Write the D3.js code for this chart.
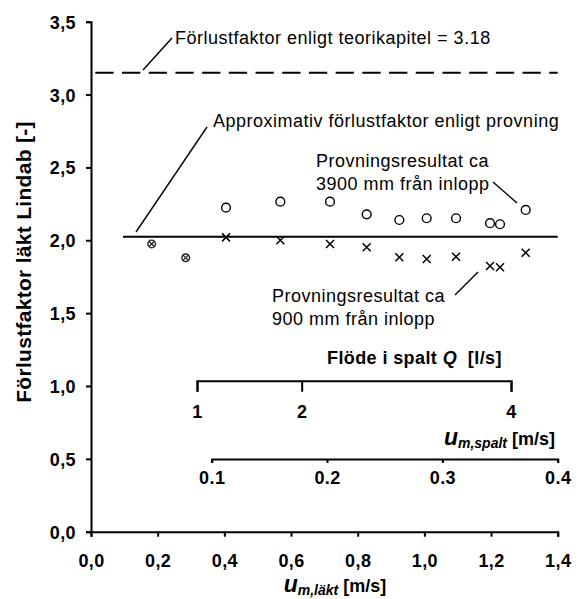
<!DOCTYPE html>
<html>
<head>
<meta charset="utf-8">
<script src="https://cdn.jsdelivr.net/npm/d3@7"></script>
<style>
  html, body { margin: 0; padding: 0; background: #fff; }
  svg { display: block; font-family: "Liberation Sans", Arial, sans-serif; }
</style>
</head>
<body>
<svg id="chart" width="578" height="599"></svg>
<script>
// ---- data ----
const uLakt3900 = [0.405, 0.568, 0.717, 0.827, 0.925, 1.007, 1.095, 1.197, 1.227, 1.304];
const f3900     = [2.224, 2.265, 2.265, 2.178, 2.139, 2.151, 2.151, 2.117, 2.110, 2.208];
const uLakt900  = [0.405, 0.568, 0.717, 0.827, 0.925, 1.007, 1.095, 1.197, 1.227, 1.304];
const f900      = [2.020, 2.000, 1.975, 1.952, 1.883, 1.872, 1.887, 1.824, 1.815, 1.915];
const uLaktBoth = [0.182, 0.284];
const fBoth     = [1.975, 1.880];
const theoryLine = { x: [0.013, 1.4], y: 3.15 };
const approxLine = { x: [0.096, 1.4], y: 2.025 };
const xTicks = [0, 0.2, 0.4, 0.6, 0.8, 1.0, 1.2, 1.4];
const yTicks = [0, 0.5, 1.0, 1.5, 2.0, 2.5, 3.0, 3.5];
const qTicks = [1, 2, 4];
const qAtULakt = [0.318, 1.26];       // Q = 1 and Q = 4 l/s on the u_läkt axis
const spaltTicks = [0.1, 0.2, 0.3, 0.4];
const spaltAtULakt = [0.362, 1.4];    // u_spalt = 0.1 and 0.4 m/s on the u_läkt axis

// ---- layout ----
const svg = d3.select("#chart");
const x = d3.scaleLinear().domain([0, 1.4]).range([91, 557.7]);
const y = d3.scaleLinear().domain([0, 3.5]).range([531.7, 21.7]);
const comma = d => d3.format(".1f")(d).replace(".", ",");

// main x axis
const gx = svg.append("g").attr("transform", "translate(0,531.7)")
  .call(d3.axisBottom(x).tickValues(xTicks).tickFormat(comma).tickSize(5).tickSizeOuter(5));
// main y axis
const gy = svg.append("g").attr("transform", "translate(91,0)")
  .call(d3.axisLeft(y).tickValues(yTicks).tickFormat(comma).tickSize(5).tickSizeOuter(5));

[gx, gy].forEach(g => {
  g.select(".domain").attr("stroke", "#000").attr("stroke-width", 2);
  g.selectAll(".tick line").attr("stroke", "#000").attr("stroke-width", 2);
  g.selectAll("text").attr("font-family", "Liberation Sans, Arial, sans-serif")
    .attr("font-size", 18).attr("font-weight", "bold").attr("fill", "#000")
    .style("letter-spacing", "0.4px");
});
gx.selectAll("text").attr("y", 35).attr("dy", 0);
gy.selectAll("text").attr("x", -15).attr("dy", "0.36em");

// Q axis
const xQ = d3.scaleLinear().domain([1, 4]).range(qAtULakt.map(x));
const gq = svg.append("g").attr("transform", "translate(0,380.7)")
  .call(d3.axisBottom(xQ).tickValues(qTicks).tickFormat(d3.format("d")).tickSize(11).tickSizeOuter(11));
// u_spalt axis
const xS = d3.scaleLinear().domain([0.1, 0.4]).range(spaltAtULakt.map(x));
const gs = svg.append("g").attr("transform", "translate(0,459)")
  .call(d3.axisBottom(xS).tickValues(spaltTicks).tickFormat(d3.format(".1f")).tickSize(4).tickSizeOuter(4));
[gq, gs].forEach(g => {
  g.select(".domain").attr("stroke", "#000").attr("stroke-width", 2);
  g.selectAll(".tick line").attr("stroke", "#000").attr("stroke-width", 2);
  g.selectAll("text").attr("font-family", "Liberation Sans, Arial, sans-serif")
    .attr("font-size", 18).attr("font-weight", "bold").attr("fill", "#000")
    .style("letter-spacing", "0.4px").attr("dy", 0);
});
gq.selectAll("text").attr("y", 37);
gs.selectAll("text").attr("y", 25);

// reference lines
svg.append("line")
  .attr("x1", x(theoryLine.x[0])).attr("x2", x(theoryLine.x[1]))
  .attr("y1", y(theoryLine.y)).attr("y2", y(theoryLine.y))
  .attr("stroke", "#000").attr("stroke-width", 2).attr("stroke-dasharray", "18.3,8.4");
svg.append("line")
  .attr("x1", x(approxLine.x[0])).attr("x2", x(approxLine.x[1]))
  .attr("y1", y(approxLine.y)).attr("y2", y(approxLine.y))
  .attr("stroke", "#000").attr("stroke-width", 2);

// markers
const crossPath = (cx, cy, s) => `M${cx - s},${cy - s}L${cx + s},${cy + s}M${cx - s},${cy + s}L${cx + s},${cy - s}`;
svg.append("g").selectAll("circle").data(uLakt3900).join("circle")
  .attr("cx", d => x(d)).attr("cy", (d, i) => y(f3900[i])).attr("r", 4.4)
  .attr("fill", "none").attr("stroke", "#000").attr("stroke-width", 1.4);
svg.append("g").selectAll("path").data(uLakt900).join("path")
  .attr("d", (d, i) => crossPath(x(d), y(f900[i]), 4))
  .attr("fill", "none").attr("stroke", "#000").attr("stroke-width", 1.5);
svg.append("g").selectAll("circle").data(uLaktBoth).join("circle")
  .attr("cx", d => x(d)).attr("cy", (d, i) => y(fBoth[i])).attr("r", 3.8)
  .attr("fill", "none").attr("stroke", "#222").attr("stroke-width", 1.4);
svg.append("g").selectAll("path").data(uLaktBoth).join("path")
  .attr("d", (d, i) => crossPath(x(d), y(fBoth[i]), 2.6))
  .attr("fill", "none").attr("stroke", "#222").attr("stroke-width", 1.3);

// annotations
const ann = (tx, ty, str) => svg.append("text").attr("x", tx).attr("y", ty)
  .attr("font-size", 18).attr("fill", "#000").style("letter-spacing", "0.5px").text(str);
ann(175, 44, "Förlustfaktor enligt teorikapitel = 3.18");
ann(213, 127, "Approximativ förlustfaktor enligt provning");
ann(316, 167, "Provningsresultat ca");
ann(316, 190, "3900 mm från inlopp");
ann(272, 302, "Provningsresultat ca");
ann(272, 325, "900 mm från inlopp");

const leader = (x1, y1, x2, y2) => svg.append("line").attr("x1", x1).attr("y1", y1)
  .attr("x2", x2).attr("y2", y2).attr("stroke", "#000").attr("stroke-width", 1.4);
leader(143, 70, 172, 38);
leader(136, 232, 207, 127);
leader(493, 182, 517, 203);
leader(455, 295, 478, 272);

// axis titles
svg.append("text").attr("transform", "translate(31,262) rotate(-90)")
  .attr("text-anchor", "middle").attr("font-size", 21).attr("font-weight", "bold")
  .style("letter-spacing", "0.3px").text("Förlustfaktor läkt Lindab [-]");

const xt = svg.append("text").attr("x", 335).attr("y", 592).attr("text-anchor", "middle")
  .attr("font-weight", "bold");
xt.append("tspan").attr("font-size", 23).attr("font-style", "italic").text("u");
xt.append("tspan").attr("font-size", 14).attr("font-style", "italic").attr("dy", 3).text("m,läkt");
xt.append("tspan").attr("font-size", 18).attr("dy", -3).text(" [m/s]");

const st = svg.append("text").attr("x", 555).attr("y", 445).attr("text-anchor", "end")
  .attr("font-weight", "bold");
st.append("tspan").attr("font-size", 23).attr("font-style", "italic").text("u");
st.append("tspan").attr("font-size", 14).attr("font-style", "italic").attr("dy", 3).text("m,spalt");
st.append("tspan").attr("font-size", 18).attr("dy", -3).text(" [m/s]");

const qt = svg.append("text").attr("x", 327).attr("y", 364).attr("font-weight", "bold")
  .attr("font-size", 18).style("letter-spacing", "0.4px");
qt.append("tspan").text("Flöde i spalt ");
qt.append("tspan").attr("font-style", "italic").text("Q");
qt.append("tspan").text("  [l/s]");
qt.attr("xml:space", "preserve");
</script>
</body>
</html>
